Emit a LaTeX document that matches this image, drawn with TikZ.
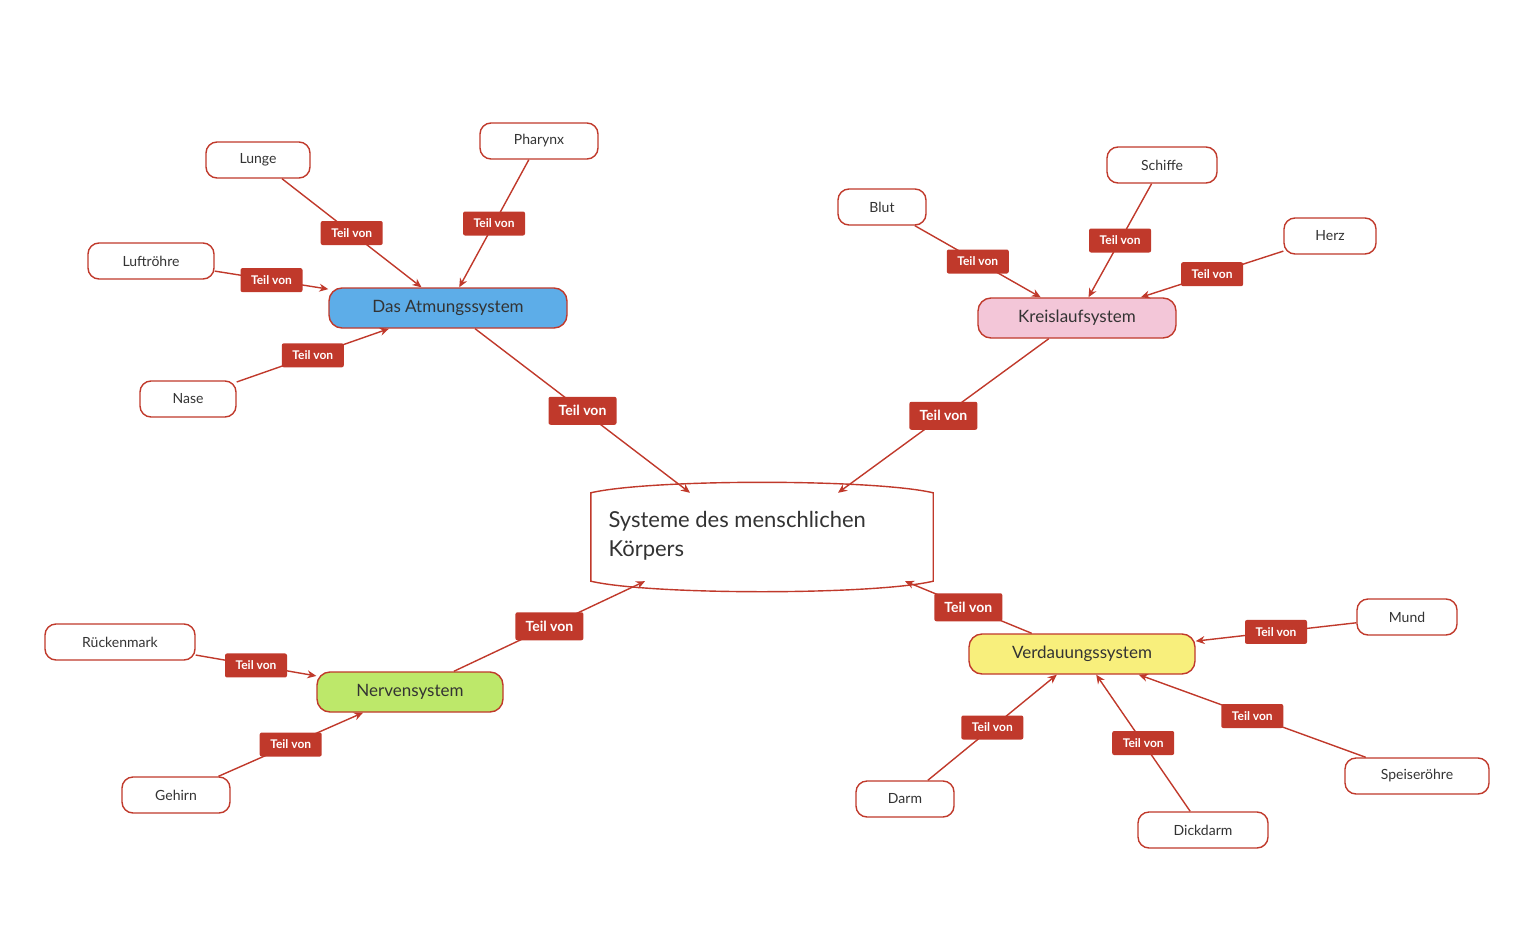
\documentclass[tikz,border=0pt]{standalone}
\usepackage{fontspec}
\setmainfont{Lato}
\usetikzlibrary{arrows.meta}
\definecolor{rot}{HTML}{C0392B}
\definecolor{txt}{HTML}{333333}
\definecolor{blau}{HTML}{5DADE8}
\definecolor{rosa}{HTML}{F3C6D8}
\definecolor{gruen}{HTML}{BDE86A}
\definecolor{gelb}{HTML}{F8EF7C}
\begin{document}
\begin{tikzpicture}[x=1pt,y=-1pt,
  leaf/.style={draw=rot,line width=1.4pt,rounded corners=11pt,fill=white,text=txt,font=\fontsize{14}{16}\selectfont,minimum height=36pt,inner sep=0pt},
  sys/.style={leaf,minimum height=40pt,rounded corners=13pt,font=\fontsize{17}{19}\selectfont},
  rel/.style={fill=rot,text=white,font=\bfseries\fontsize{12}{14}\selectfont,rounded corners=2pt,inner sep=0pt,minimum height=24pt,minimum width=62pt},
  relbig/.style={rel,font=\bfseries\fontsize{14}{16}\selectfont,minimum height=28pt,minimum width=68pt},
  link/.style={draw=rot,line width=1.4pt,-{Stealth[length=9pt,width=8pt]}}]
\useasboundingbox (0,0) rectangle (1536,950);
% zentrum
\node[draw=none,minimum width=342pt,minimum height=88pt,inner sep=0pt] (koerper) at (762,537) {};
\draw[rot,line width=1.4pt] (koerper.north west) .. controls +(60,-14) and +(-60,-14) .. (koerper.north east)
  -- (koerper.south east) .. controls +(-60,14) and +(60,14) .. (koerper.south west) -- cycle;
\node[text=txt,font=\fontsize{22}{29}\selectfont,align=left,anchor=north west] at (605,508) {Systeme des menschlichen\\Körpers};
% systeme
\node[sys,fill=blau,minimum width=238pt] (atmung) at (448,308) {Das Atmungssystem};
\node[sys,fill=rosa,minimum width=198pt] (kreislauf) at (1077,318) {Kreislaufsystem};
\node[sys,fill=gruen,minimum width=186pt] (nerven) at (410,692) {Nervensystem};
\node[sys,fill=gelb,minimum width=226pt] (verdauung) at (1082,654) {Verdauungssystem};
% organe
\node[leaf,minimum width=104pt] (lunge) at (258,160) {Lunge};
\node[leaf,minimum width=118pt] (pharynx) at (539,141) {Pharynx};
\node[leaf,minimum width=126pt] (luftroehre) at (151,261) {Luftröhre};
\node[leaf,minimum width=96pt] (nase) at (188,399) {Nase};
\node[leaf,minimum width=88pt] (blut) at (882,207) {Blut};
\node[leaf,minimum width=110pt] (schiffe) at (1162,165) {Schiffe};
\node[leaf,minimum width=92pt] (herz) at (1330,236) {Herz};
\node[leaf,minimum width=150pt] (rueckenmark) at (120,642) {Rückenmark};
\node[leaf,minimum width=108pt] (gehirn) at (176,795) {Gehirn};
\node[leaf,minimum width=100pt] (mund) at (1407,617) {Mund};
\node[leaf,minimum width=144pt] (speiseroehre) at (1417,776) {Speiseröhre};
\node[leaf,minimum width=130pt] (dickdarm) at (1203,830) {Dickdarm};
\node[leaf,minimum width=98pt] (darm) at (905,799) {Darm};
% verbindungen
\foreach \a/\b in {lunge/atmung,pharynx/atmung,luftroehre/atmung,nase/atmung,
  blut/kreislauf,schiffe/kreislauf,herz/kreislauf,rueckenmark/nerven,gehirn/nerven,
  mund/verdauung,speiseroehre/verdauung,dickdarm/verdauung,darm/verdauung}
  \draw[link] (\a) -- node[rel] {Teil von} (\b);
\draw[link] (atmung) -- node[relbig] {Teil von} (koerper.north west -| 690,0);
\draw[link] (kreislauf) -- node[relbig] {Teil von} (koerper.north east -| 838,0);
\draw[link] (nerven) -- node[relbig] {Teil von} (koerper.south west -| 645,0);
\draw[link] (verdauung) -- node[relbig] {Teil von} (koerper.south east -| 905,0);
\end{tikzpicture}
\end{document}
